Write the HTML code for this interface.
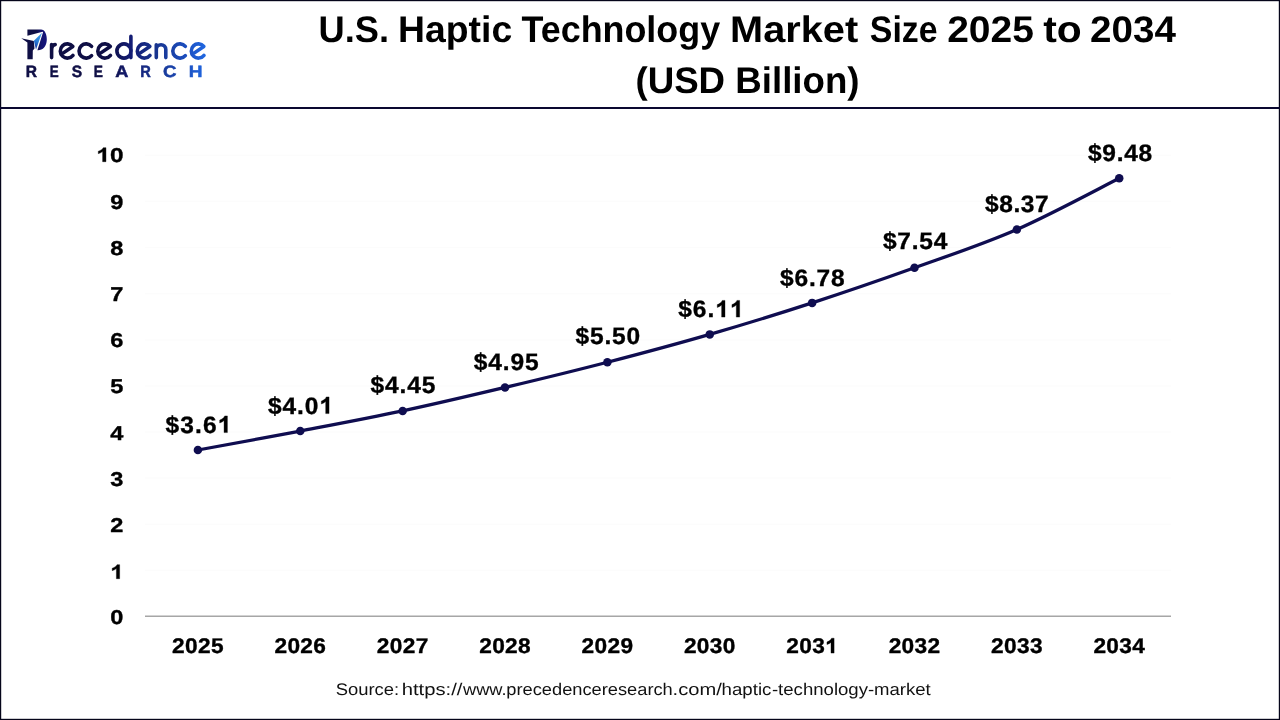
<!DOCTYPE html>
<html><head><meta charset="utf-8"><title>U.S. Haptic Technology Market Size 2025 to 2034</title>
<style>
html,body{margin:0;padding:0;background:#fff;}
body{width:1280px;height:720px;overflow:hidden;font-family:"Liberation Sans",sans-serif;}
svg{display:block;font-family:"Liberation Sans",sans-serif;will-change:transform;text-rendering:geometricPrecision;}
</style></head><body>
<svg width="1280" height="720" viewBox="0 0 1280 720">
<rect x="0" y="0" width="1280" height="720" fill="#fff"/>
<!-- frame -->
<rect x="0.6" y="0.6" width="1278.8" height="718.8" fill="none" stroke="#05051a" stroke-width="1.2"/>
<rect x="0" y="107" width="1280" height="2" fill="#0a0830"/>
<defs><linearGradient id="lg" gradientUnits="userSpaceOnUse" x1="27" y1="0" x2="206" y2="0">
<stop offset="0" stop-color="#0f0f45"/><stop offset="0.46" stop-color="#0f0f45"/><stop offset="0.58" stop-color="#131c74"/><stop offset="0.72" stop-color="#18348e"/><stop offset="0.88" stop-color="#1b4cbc"/><stop offset="1" stop-color="#2068e2"/></linearGradient><linearGradient id="pb" gradientUnits="userSpaceOnUse" x1="41" y1="34" x2="34.5" y2="47"><stop offset="0" stop-color="#3a9cea"/><stop offset="0.55" stop-color="#2a7fd8"/><stop offset="1" stop-color="#173fa8"/></linearGradient><linearGradient id="pg" gradientUnits="userSpaceOnUse" x1="36" y1="0" x2="47" y2="0"><stop offset="0" stop-color="#0f0f45"/><stop offset="0.5" stop-color="#131370"/><stop offset="1" stop-color="#15157e"/></linearGradient></defs>
<g id="logo">
<path d="M51.6,57.6 L51.6,44.6 M51.6,50.5 C51.6,46.6 53.2,44.7 55.2,44.6 M61.16,54.38 L72.84,46.44 A7.1,7.1 0 1 0 72.99,55.37 M91.59,46.44 A7.1,7.1 0 1 0 91.59,55.56 M98.66,54.38 L110.34,46.44 A7.1,7.1 0 1 0 110.49,55.37 M131.10,51.0 A7.1,7.1 0 1 0 131.10,51.01 Z M130.9,36.4 L130.9,57.6 M138.16,54.38 L149.84,46.44 A7.1,7.1 0 1 0 149.99,55.37 M156.3,57.6 L156.3,44.7 M156.3,49.45 A4.75,4.75 0 0 1 165.8,49.45 L165.8,57.6 M185.34,46.44 A7.1,7.1 0 1 0 185.34,55.56 M192.16,54.38 L203.84,46.44 A7.1,7.1 0 1 0 203.99,55.37" fill="none" stroke="url(#lg)" stroke-width="3.6" stroke-linecap="round" stroke-linejoin="round"/>
<!-- P icon -->
<path d="M27.4,29.6 L41,29.6 C44.8,29.6 47,34.5 46.8,40 C46.5,46.2 42.8,50.6 37.4,50.3 L43.05,32.3 L42.6,31.7 L27.4,35.8 Z" fill="url(#pg)"/>
<path d="M21.3,38.2 L33.8,40.9 L34.5,48.6 L32.8,50.6 L32.7,59.3 L27.4,59.3 L27.4,42.6 Z" fill="#0f0f45"/>
<path d="M42.0,32.7 L33.9,40.7 L36.0,49.6 Z" fill="url(#pb)"/>
</g>
<text x="318.52" y="42.30" font-size="37" font-weight="700" textLength="70.47" lengthAdjust="spacingAndGlyphs" fill="#000">U.S.</text>
<text x="398.10" y="42.30" font-size="37" font-weight="700" textLength="114.09" lengthAdjust="spacingAndGlyphs" fill="#000">Haptic</text>
<text x="521.50" y="42.30" font-size="37" font-weight="700" textLength="198.59" lengthAdjust="spacingAndGlyphs" fill="#000">Technology</text>
<text x="730.14" y="42.30" font-size="37" font-weight="700" textLength="128.04" lengthAdjust="spacingAndGlyphs" fill="#000">Market</text>
<text x="869.82" y="42.30" font-size="37" font-weight="700" textLength="67.84" lengthAdjust="spacingAndGlyphs" fill="#000">Size</text>
<text x="947.15" y="42.30" font-size="37" font-weight="700" textLength="86.74" lengthAdjust="spacingAndGlyphs" fill="#000">2025</text>
<text x="1043.30" y="42.30" font-size="37" font-weight="700" textLength="38.49" lengthAdjust="spacingAndGlyphs" fill="#000">to</text>
<text x="1090.06" y="42.30" font-size="37" font-weight="700" textLength="85.85" lengthAdjust="spacingAndGlyphs" fill="#000">2034</text>
<text x="635.47" y="93.10" font-size="37" font-weight="700" textLength="224.05" lengthAdjust="spacingAndGlyphs" fill="#000">(USD Billion)</text>
<g transform="translate(110.37,624.20) scale(1.1775,1)" fill="#000" stroke="#000" stroke-width="0.35" stroke-linejoin="round"><text x="0.00" y="0" font-size="20" font-weight="700">0</text></g>
<g transform="translate(110.37,578.70) scale(1.1775,1)" fill="#000" stroke="#000" stroke-width="0.35" stroke-linejoin="round"><path transform="translate(0.00,0) scale(20)" stroke-width="0.0175" d="M0.393,0 L0.256,0 L0.256,-0.505 Q0.181,-0.437 0.0786,-0.403 L0.0786,-0.525 Q0.132,-0.542 0.195,-0.590 Q0.258,-0.638 0.282,-0.702 L0.393,-0.702 Z"/></g>
<g transform="translate(110.37,532.40) scale(1.1775,1)" fill="#000" stroke="#000" stroke-width="0.35" stroke-linejoin="round"><text x="0.00" y="0" font-size="20" font-weight="700">2</text></g>
<g transform="translate(110.37,485.90) scale(1.1775,1)" fill="#000" stroke="#000" stroke-width="0.35" stroke-linejoin="round"><text x="0.00" y="0" font-size="20" font-weight="700">3</text></g>
<g transform="translate(110.37,440.00) scale(1.1775,1)" fill="#000" stroke="#000" stroke-width="0.35" stroke-linejoin="round"><text x="0.00" y="0" font-size="20" font-weight="700">4</text></g>
<g transform="translate(110.37,393.30) scale(1.1775,1)" fill="#000" stroke="#000" stroke-width="0.35" stroke-linejoin="round"><text x="0.00" y="0" font-size="20" font-weight="700">5</text></g>
<g transform="translate(110.37,347.40) scale(1.1775,1)" fill="#000" stroke="#000" stroke-width="0.35" stroke-linejoin="round"><text x="0.00" y="0" font-size="20" font-weight="700">6</text></g>
<g transform="translate(110.37,301.10) scale(1.1775,1)" fill="#000" stroke="#000" stroke-width="0.35" stroke-linejoin="round"><text x="0.00" y="0" font-size="20" font-weight="700">7</text></g>
<g transform="translate(110.37,255.30) scale(1.1775,1)" fill="#000" stroke="#000" stroke-width="0.35" stroke-linejoin="round"><text x="0.00" y="0" font-size="20" font-weight="700">8</text></g>
<g transform="translate(110.37,208.60) scale(1.1775,1)" fill="#000" stroke="#000" stroke-width="0.35" stroke-linejoin="round"><text x="0.00" y="0" font-size="20" font-weight="700">9</text></g>
<g transform="translate(96.38,161.70) scale(1.2189,1)" fill="#000" stroke="#000" stroke-width="0.35" stroke-linejoin="round"><text x="11.12" y="0" font-size="20" font-weight="700">0</text><path transform="translate(0.00,0) scale(20)" stroke-width="0.0175" d="M0.393,0 L0.256,0 L0.256,-0.505 Q0.181,-0.437 0.0786,-0.403 L0.0786,-0.525 Q0.132,-0.542 0.195,-0.590 Q0.258,-0.638 0.282,-0.702 L0.393,-0.702 Z"/></g>
<line x1="145" x2="1171" y1="570.4" y2="570.4" stroke="#fcfcfc" stroke-width="1.2"/>
<line x1="145" x2="1171" y1="524.3" y2="524.3" stroke="#fcfcfc" stroke-width="1.2"/>
<line x1="145" x2="1171" y1="478.1" y2="478.1" stroke="#fcfcfc" stroke-width="1.2"/>
<line x1="145" x2="1171" y1="432.0" y2="432.0" stroke="#fcfcfc" stroke-width="1.2"/>
<line x1="145" x2="1171" y1="385.9" y2="385.9" stroke="#fcfcfc" stroke-width="1.2"/>
<line x1="145" x2="1171" y1="339.8" y2="339.8" stroke="#fcfcfc" stroke-width="1.2"/>
<line x1="145" x2="1171" y1="293.7" y2="293.7" stroke="#fcfcfc" stroke-width="1.2"/>
<line x1="145" x2="1171" y1="247.5" y2="247.5" stroke="#fcfcfc" stroke-width="1.2"/>
<line x1="145" x2="1171" y1="201.4" y2="201.4" stroke="#fcfcfc" stroke-width="1.2"/>
<line x1="145" x2="1171" y1="155.3" y2="155.3" stroke="#fcfcfc" stroke-width="1.2"/>
<line x1="145" x2="1171" y1="616.2" y2="616.2" stroke="#a6a6a6" stroke-width="1.6"/>
<g transform="translate(172.06,653.10) scale(1.0700,1)" fill="#000" stroke="#000" stroke-width="0.35" stroke-linejoin="round"><text x="0.00 12.12 24.24 36.36" y="0" font-size="21.2" font-weight="700">2025</text></g>
<g transform="translate(274.43,653.10) scale(1.0700,1)" fill="#000" stroke="#000" stroke-width="0.35" stroke-linejoin="round"><text x="0.00 12.12 24.24 36.36" y="0" font-size="21.2" font-weight="700">2026</text></g>
<g transform="translate(376.80,653.10) scale(1.0700,1)" fill="#000" stroke="#000" stroke-width="0.35" stroke-linejoin="round"><text x="0.00 12.12 24.24 36.36" y="0" font-size="21.2" font-weight="700">2027</text></g>
<g transform="translate(479.17,653.10) scale(1.0700,1)" fill="#000" stroke="#000" stroke-width="0.35" stroke-linejoin="round"><text x="0.00 12.12 24.24 36.36" y="0" font-size="21.2" font-weight="700">2028</text></g>
<g transform="translate(581.54,653.10) scale(1.0700,1)" fill="#000" stroke="#000" stroke-width="0.35" stroke-linejoin="round"><text x="0.00 12.12 24.24 36.36" y="0" font-size="21.2" font-weight="700">2029</text></g>
<g transform="translate(683.91,653.10) scale(1.0700,1)" fill="#000" stroke="#000" stroke-width="0.35" stroke-linejoin="round"><text x="0.00 12.12 24.24 36.36" y="0" font-size="21.2" font-weight="700">2030</text></g>
<g transform="translate(786.28,653.10) scale(1.0700,1)" fill="#000" stroke="#000" stroke-width="0.35" stroke-linejoin="round"><text x="0.00 12.12 24.24" y="0" font-size="21.2" font-weight="700">203</text><path transform="translate(36.36,0) scale(21.2)" stroke-width="0.0165" d="M0.393,0 L0.256,0 L0.256,-0.505 Q0.181,-0.437 0.0786,-0.403 L0.0786,-0.525 Q0.132,-0.542 0.195,-0.590 Q0.258,-0.638 0.282,-0.702 L0.393,-0.702 Z"/></g>
<g transform="translate(888.65,653.10) scale(1.0700,1)" fill="#000" stroke="#000" stroke-width="0.35" stroke-linejoin="round"><text x="0.00 12.12 24.24 36.36" y="0" font-size="21.2" font-weight="700">2032</text></g>
<g transform="translate(991.02,653.10) scale(1.0700,1)" fill="#000" stroke="#000" stroke-width="0.35" stroke-linejoin="round"><text x="0.00 12.12 24.24 36.36" y="0" font-size="21.2" font-weight="700">2033</text></g>
<g transform="translate(1093.39,653.10) scale(1.0700,1)" fill="#000" stroke="#000" stroke-width="0.35" stroke-linejoin="round"><text x="0.00 12.12 24.24 36.36" y="0" font-size="21.2" font-weight="700">2034</text></g>
<path d="M197.90,450.00 C214.96,446.84 266.15,437.55 300.27,431.04 C334.39,424.53 368.52,418.19 402.64,410.93 C436.76,403.67 470.89,395.60 505.01,387.48 C539.13,379.37 573.26,371.10 607.38,362.25 C641.50,353.40 675.63,344.28 709.75,334.38 C743.87,324.49 778.00,313.98 812.12,302.88 C846.24,291.78 880.37,280.02 914.49,267.79 C948.61,255.55 982.74,244.37 1016.86,229.45 C1050.98,214.53 1102.17,186.79 1119.23,178.26" fill="none" stroke="#0f0d50" stroke-width="3.3" stroke-linecap="round" stroke-linejoin="round"/>
<circle cx="197.90" cy="450.00" r="4.25" fill="#0f0d50"/>
<circle cx="300.27" cy="431.04" r="4.25" fill="#0f0d50"/>
<circle cx="402.64" cy="410.93" r="4.25" fill="#0f0d50"/>
<circle cx="505.01" cy="387.48" r="4.25" fill="#0f0d50"/>
<circle cx="607.38" cy="362.25" r="4.25" fill="#0f0d50"/>
<circle cx="709.75" cy="334.38" r="4.25" fill="#0f0d50"/>
<circle cx="812.12" cy="302.88" r="4.25" fill="#0f0d50"/>
<circle cx="914.49" cy="267.79" r="4.25" fill="#0f0d50"/>
<circle cx="1016.86" cy="229.45" r="4.25" fill="#0f0d50"/>
<circle cx="1119.23" cy="178.26" r="4.25" fill="#0f0d50"/>
<g transform="translate(165.53,432.60) scale(1.0300,1)" fill="#000" stroke="#000" stroke-width="0.35" stroke-linejoin="round"><text x="0.00 14.34 28.67 36.38" y="0" font-size="23.8" font-weight="700">$3.6</text><path transform="translate(50.72,0) scale(23.8)" stroke-width="0.0147" d="M0.393,0 L0.256,0 L0.256,-0.505 Q0.181,-0.437 0.0786,-0.403 L0.0786,-0.525 Q0.132,-0.542 0.195,-0.590 Q0.258,-0.638 0.282,-0.702 L0.393,-0.702 Z"/></g>
<g transform="translate(267.93,413.60) scale(1.0300,1)" fill="#000" stroke="#000" stroke-width="0.35" stroke-linejoin="round"><text x="0.00 14.15 28.31 35.84" y="0" font-size="23.8" font-weight="700">$4.0</text><path transform="translate(49.99,0) scale(23.8)" stroke-width="0.0147" d="M0.393,0 L0.256,0 L0.256,-0.505 Q0.181,-0.437 0.0786,-0.403 L0.0786,-0.525 Q0.132,-0.542 0.195,-0.590 Q0.258,-0.638 0.282,-0.702 L0.393,-0.702 Z"/></g>
<g transform="translate(370.43,393.35) scale(1.0300,1)" fill="#000" stroke="#000" stroke-width="0.35" stroke-linejoin="round"><text x="0.00 14.10 28.20 35.68 49.78" y="0" font-size="23.8" font-weight="700">$4.45</text></g>
<g transform="translate(473.68,370.10) scale(1.0300,1)" fill="#000" stroke="#000" stroke-width="0.35" stroke-linejoin="round"><text x="0.00 14.10 28.20 35.68 49.78" y="0" font-size="23.8" font-weight="700">$4.95</text></g>
<g transform="translate(575.43,344.35) scale(1.0300,1)" fill="#000" stroke="#000" stroke-width="0.35" stroke-linejoin="round"><text x="0.00 14.06 28.12 35.55 49.61" y="0" font-size="23.8" font-weight="700">$5.50</text></g>
<g transform="translate(678.18,317.10) scale(1.0300,1)" fill="#000" stroke="#000" stroke-width="0.35" stroke-linejoin="round"><text x="0.00 14.24 28.48" y="0" font-size="23.8" font-weight="700">$6.</text><path transform="translate(36.09,0) scale(23.8)" stroke-width="0.0147" d="M0.393,0 L0.256,0 L0.256,-0.505 Q0.181,-0.437 0.0786,-0.403 L0.0786,-0.525 Q0.132,-0.542 0.195,-0.590 Q0.258,-0.638 0.282,-0.702 L0.393,-0.702 Z"/><path transform="translate(50.33,0) scale(23.8)" stroke-width="0.0147" d="M0.393,0 L0.256,0 L0.256,-0.505 Q0.181,-0.437 0.0786,-0.403 L0.0786,-0.525 Q0.132,-0.542 0.195,-0.590 Q0.258,-0.638 0.282,-0.702 L0.393,-0.702 Z"/></g>
<g transform="translate(779.93,286.35) scale(1.0300,1)" fill="#000" stroke="#000" stroke-width="0.35" stroke-linejoin="round"><text x="0.00 14.06 28.11 35.55 49.61" y="0" font-size="23.8" font-weight="700">$6.78</text></g>
<g transform="translate(882.93,249.35) scale(1.0300,1)" fill="#000" stroke="#000" stroke-width="0.35" stroke-linejoin="round"><text x="0.00 13.97 27.93 35.28 49.24" y="0" font-size="23.8" font-weight="700">$7.54</text></g>
<g transform="translate(984.93,211.60) scale(1.0300,1)" fill="#000" stroke="#000" stroke-width="0.35" stroke-linejoin="round"><text x="0.00 13.83 27.66 34.87 48.71" y="0" font-size="23.8" font-weight="700">$8.37</text></g>
<g transform="translate(1087.93,160.85) scale(1.0300,1)" fill="#000" stroke="#000" stroke-width="0.35" stroke-linejoin="round"><text x="0.00 13.94 27.87 35.18 49.12" y="0" font-size="23.8" font-weight="700">$9.48</text></g>
<text x="25.86" y="77.00" font-size="16.4" font-weight="700" textLength="11.26" lengthAdjust="spacingAndGlyphs" fill="url(#lg)" stroke="url(#lg)" stroke-width="0.5">R</text>
<text x="49.71" y="77.00" font-size="16.4" font-weight="700" textLength="8.92" lengthAdjust="spacingAndGlyphs" fill="url(#lg)" stroke="url(#lg)" stroke-width="0.5">E</text>
<text x="71.65" y="77.00" font-size="16.4" font-weight="700" textLength="10.35" lengthAdjust="spacingAndGlyphs" fill="url(#lg)" stroke="url(#lg)" stroke-width="0.5">S</text>
<text x="93.68" y="77.00" font-size="16.4" font-weight="700" textLength="9.15" lengthAdjust="spacingAndGlyphs" fill="url(#lg)" stroke="url(#lg)" stroke-width="0.5">E</text>
<text x="115.15" y="77.00" font-size="16.4" font-weight="700" textLength="13.13" lengthAdjust="spacingAndGlyphs" fill="url(#lg)" stroke="url(#lg)" stroke-width="0.5">A</text>
<text x="140.32" y="77.00" font-size="16.4" font-weight="700" textLength="10.58" lengthAdjust="spacingAndGlyphs" fill="url(#lg)" stroke="url(#lg)" stroke-width="0.5">R</text>
<text x="162.93" y="77.00" font-size="16.4" font-weight="700" textLength="13.48" lengthAdjust="spacingAndGlyphs" fill="url(#lg)" stroke="url(#lg)" stroke-width="0.5">C</text>
<text x="188.73" y="77.00" font-size="16.4" font-weight="700" textLength="13.76" lengthAdjust="spacingAndGlyphs" fill="url(#lg)" stroke="url(#lg)" stroke-width="0.5">H</text>
<text x="335.76" y="694.60" font-size="16.8" font-weight="400" textLength="63.42" lengthAdjust="spacingAndGlyphs" fill="#111">Source:</text>
<text x="401.70" y="694.60" font-size="16.8" font-weight="400" textLength="60.80" lengthAdjust="spacingAndGlyphs" fill="#111">https://</text>
<text x="463.03" y="694.60" font-size="16.8" font-weight="400" textLength="43.60" lengthAdjust="spacingAndGlyphs" fill="#111">www.</text>
<text x="506.32" y="694.60" font-size="16.8" font-weight="400" textLength="166.46" lengthAdjust="spacingAndGlyphs" fill="#111">precedenceresearch</text>
<text x="672.56" y="694.60" font-size="16.8" font-weight="400" textLength="49.24" lengthAdjust="spacingAndGlyphs" fill="#111">.com/</text>
<text x="721.61" y="694.60" font-size="16.8" font-weight="400" textLength="49.79" lengthAdjust="spacingAndGlyphs" fill="#111">haptic</text>
<text x="771.92" y="694.60" font-size="16.8" font-weight="400" textLength="102.30" lengthAdjust="spacingAndGlyphs" fill="#111">-technology-</text>
<text x="874.07" y="694.60" font-size="16.8" font-weight="400" textLength="56.67" lengthAdjust="spacingAndGlyphs" fill="#111">market</text>
</svg>
</body></html>
